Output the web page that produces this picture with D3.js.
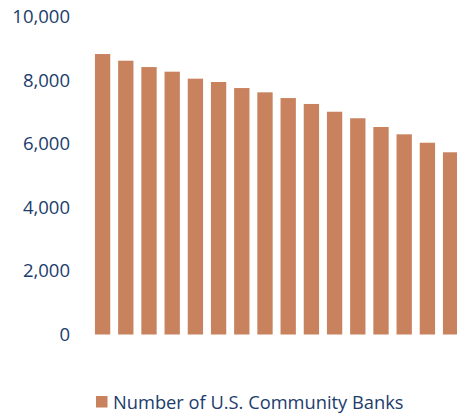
<!DOCTYPE html>
<html>
<head>
<meta charset="utf-8">
<script src="https://cdnjs.cloudflare.com/ajax/libs/d3/7.8.5/d3.min.js"></script>
<style>
  body { margin: 0; background: #fff; }
  svg { display: block; font-family: "Open Sans", sans-serif; }
</style>
</head>
<body>
<div id="chart"></div>
<script>
// number of community banks, one bar per year (x axis is unlabeled)
var years = ["2002","2003","2004","2005","2006","2007","2008","2009",
             "2010","2011","2012","2013","2014","2015","2016","2017"];
var banks = [8820, 8610, 8410, 8265, 8045, 7940, 7750, 7615,
             7435, 7250, 7005, 6800, 6525, 6295, 6030, 5730];
var yTicks = [0, 2000, 4000, 6000, 8000, 10000];
var seriesName = "Number of U.S. Community Banks";

var width = 457, height = 413;
var barColor = "#C8825E", textColor = "#1C3C6C";

var svg = d3.select("#chart").append("svg")
    .attr("width", width)
    .attr("height", height);

var x = d3.scaleBand()
    .domain(years)
    .range([91, 462.2])
    .paddingInner(0.34)
    .paddingOuter(0.17);

var y = d3.scaleLinear()
    .domain([0, 10000])
    .range([334.5, 16.5]);

// y tick labels, no axis line
var yAxis = d3.axisLeft(y)
    .tickValues(yTicks)
    .tickFormat(d3.format(","))
    .tickSize(0)
    .tickPadding(0);

var gy = svg.append("g")
    .attr("transform", "translate(70,0)")
    .call(yAxis);
gy.select(".domain").remove();
gy.selectAll("text")
    .attr("fill", textColor)
    .style("font-size", "18.5px")
    .style("font-family", "'Open Sans', sans-serif");

svg.append("g")
  .selectAll("rect")
  .data(banks)
  .enter().append("rect")
    .attr("x", (d, i) => x(years[i]))
    .attr("y", d => y(d))
    .attr("width", x.bandwidth())
    .attr("height", d => y(0) - y(d))
    .attr("fill", barColor);

// legend
var legend = svg.append("g").attr("transform", "translate(96,396)");
legend.append("rect")
    .attr("width", 11.5)
    .attr("height", 11.5)
    .attr("fill", barColor);
legend.append("text")
    .attr("x", 17)
    .attr("y", 12.5)
    .attr("fill", textColor)
    .style("font-size", "18.3px")
    .text(seriesName);
</script>
</body>
</html>
